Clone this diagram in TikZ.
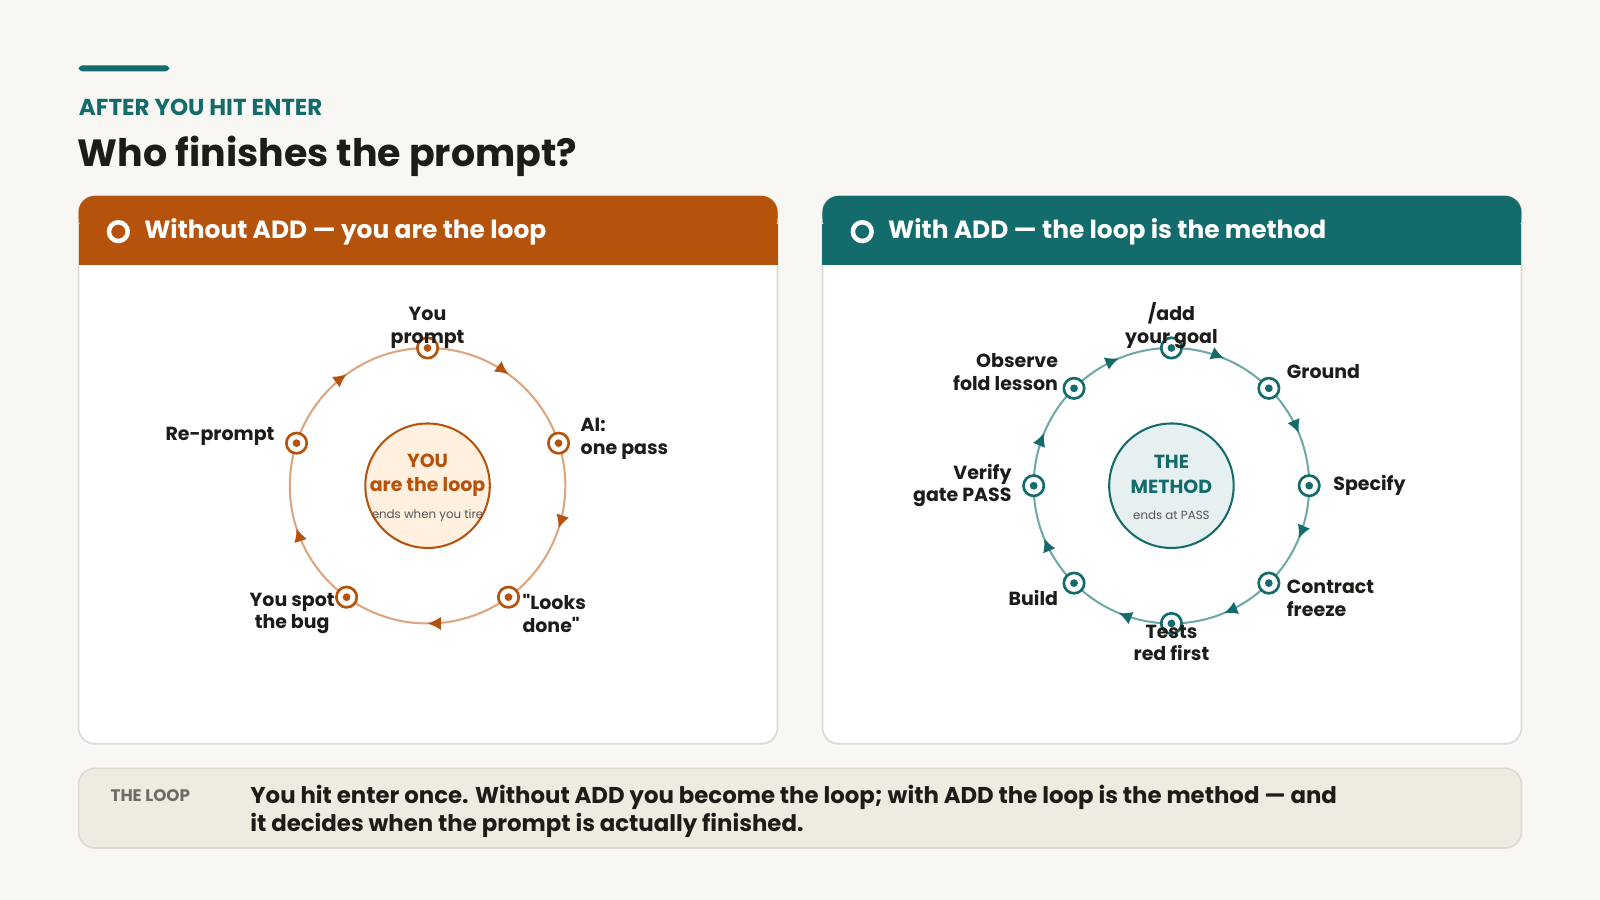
\documentclass[tikz,border=0pt]{standalone}
\usepackage{fontspec}
\setmainfont{Poppins}
\usetikzlibrary{decorations.markings,arrows.meta,calc}
\definecolor{bg}{HTML}{F8F7F3}
\definecolor{teal}{HTML}{136B6B}
\definecolor{tealL}{HTML}{6FA9A7}
\definecolor{orng}{HTML}{B5520C}
\definecolor{orngL}{HTML}{DDA57E}
\definecolor{ink}{HTML}{1E1B18}
\definecolor{bord}{HTML}{DEDAD2}
\definecolor{note}{HTML}{EFEBE1}
\tikzset{
 x=0.5pt,y=-0.5pt,
 mk/.style={circle,draw=#1,line width=1.3pt,fill=white,minimum size=10pt,inner sep=0pt,
   path picture={\fill[#1] (path picture bounding box.center) circle (1.9pt);}},
 lbl/.style={font=\fontsize{9.3}{11}\selectfont\bfseries,text=ink,align=center,inner sep=0pt},
 ring/.style={line width=1pt,draw=#1,postaction={decorate}},
 ctr/.style={align=center,inner sep=0pt},
}
\begin{document}
\begin{tikzpicture}
\fill[bg] (0,0) rectangle (1568,882);
\useasboundingbox (0,0) rectangle (1568,882);
\fill[teal,rounded corners=2pt] (77,64) rectangle (166,70);
\node[anchor=base west,inner sep=0pt,text=teal,font=\fontsize{11.3}{14}\selectfont\bfseries] (kick) at (77,113) {AFTER YOU HIT ENTER};
\node[anchor=base west,inner sep=0pt,text=ink,font=\fontsize{18.6}{24}\selectfont\bfseries] (title) at (76,163) {Who finishes the prompt?};
% panels
\foreach \x/\c/\t [count=\i] in {77/orng/Without ADD — you are the loop,806/teal/With ADD — the loop is the method}{
 \filldraw[fill=white,draw=bord,line width=0.8pt,rounded corners=8pt] (\x,192) rectangle (\x+685,729);
 \fill[\c,rounded corners=8pt] (\x,192) rectangle (\x+685,230);
 \fill[\c] (\x,220) rectangle (\x+685,260);
 \draw[white,line width=2.2pt] (\x+39,227) circle (4.6pt);
 \node[anchor=west,text=white,font=\fontsize{12.2}{15}\selectfont\bfseries,inner sep=0pt] (h\i) at (\x+64,227) {\t};
}
% left loop
\draw[ring=orngL,decoration={markings,mark=between positions 0.1 and 0.95 step 0.2 with {\arrow[orng]{Latex[length=6.5pt,width=6.5pt]}}}]
 (419,341) arc[start angle=-90,end angle=270,radius=135];
\filldraw[draw=orng,fill=orange!12!white,line width=1pt] (419,476) circle (30.5pt);
\node[ctr] (cL) at (419,478)
 {\fontsize{9.3}{10.5}\selectfont\bfseries\color{orng}YOU\\\fontsize{9.3}{10.5}\selectfont\bfseries\color{orng}are the loop\\[1pt]\fontsize{5.8}{7}\selectfont\color{ink!75}ends when you tire};
\foreach \a/\n in {90/a,18/b,-54/c,-126/d,162/e}{\node[mk=orng] (L\n) at ($(419,476)+(-\a:135)$) {};}
\node[lbl,anchor=south] at ([yshift=-6pt]La.north) {You\\prompt};
\node[lbl,anchor=west,align=left] at ([xshift=5pt,yshift=2pt]Lb.east) {AI:\\one pass};
\node[lbl,anchor=west,align=left] at ([xshift=1pt,yshift=-8pt]Lc.east) {\textquotedbl Looks\\done\textquotedbl};
\node[lbl,anchor=east,align=center] at ([xshift=0pt,yshift=-8pt]Ld.west) {You spot\\the bug};
\node[lbl,anchor=east] at ([xshift=-5pt,yshift=3.5pt]Le.west) {Re-prompt};
% right loop
\draw[ring=tealL,decoration={markings,mark=between positions 0.0625 and 0.99 step 0.125 with {\arrow[teal]{Latex[length=6.5pt,width=6.5pt]}}}]
 (1148,341) arc[start angle=-90,end angle=270,radius=135];
\filldraw[draw=teal,fill=teal!10!white,line width=1pt] (1148,476) circle (30.5pt);
\node[ctr] (cR) at (1148,478)
 {\fontsize{9.3}{10.5}\selectfont\bfseries\color{teal}THE\\\fontsize{9.3}{10.5}\selectfont\bfseries\color{teal}METHOD\\[1pt]\fontsize{5.8}{7}\selectfont\color{ink!75}ends at PASS};
\foreach \a/\n in {90/a,45/b,0/c,-45/d,-90/e,-135/f,180/g,135/h}{\node[mk=teal] (R\n) at ($(1148,476)+(-\a:135)$) {};}
\node[lbl,anchor=south] at ([yshift=-6pt]Ra.north) {/add\\your goal};
\node[lbl,anchor=west] at ([xshift=3pt,yshift=8pt]Rb.east) {Ground};
\node[lbl,anchor=west] at ([xshift=6pt]Rc.east) {Specify};
\node[lbl,anchor=west,align=left] at ([xshift=3pt,yshift=-7.5pt]Rd.east) {Contract\\freeze};
\node[lbl,anchor=north] at ([yshift=5pt]Re.south) {Tests\\red first};
\node[lbl,anchor=east] at ([xshift=-2pt,yshift=-7.5pt]Rf.west) {Build};
\node[lbl,anchor=east,align=right] at ([xshift=-5pt]Rg.west) {Verify\\gate PASS};
\node[lbl,anchor=east,align=right] at ([xshift=-2pt,yshift=8pt]Rh.west) {Observe\\fold lesson};
% bottom
\filldraw[fill=note,draw=bord,line width=0.8pt,rounded corners=8pt] (77,753) rectangle (1491,831);
\node[anchor=base west,inner sep=0pt,text=ink!65,font=\fontsize{8.2}{10}\selectfont\bfseries] (tl) at (108,785) {THE LOOP};
\node[anchor=north west,inner sep=0pt,align=left,text=ink,font=\fontsize{11.2}{14}\selectfont\bfseries] (bt) at (245,769)
 {You hit enter once. Without ADD you become the loop; with ADD the loop is the method — and\\it decides when the prompt is actually finished.};
\end{tikzpicture}
\end{document}
